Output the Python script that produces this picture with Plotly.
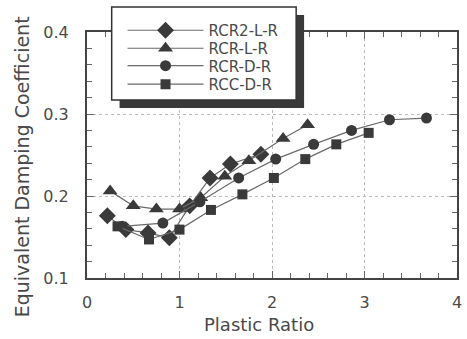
import plotly.graph_objects as go

# Data
rcr2_l_x = [0.22, 0.42, 0.66, 0.89, 1.11, 1.33, 1.55, 1.88]
rcr2_l_y = [0.176, 0.159, 0.155, 0.149, 0.188, 0.222, 0.239, 0.251]

rcr_l_x = [0.25, 0.50, 0.75, 1.00, 1.23, 1.49, 1.75, 2.12, 2.385]
rcr_l_y = [0.206, 0.188, 0.184, 0.184, 0.198, 0.224, 0.243, 0.270, 0.287]

rcr_d_x = [0.38, 0.82, 1.22, 1.64, 2.04, 2.45, 2.86, 3.27, 3.67]
rcr_d_y = [0.163, 0.167, 0.193, 0.222, 0.245, 0.263, 0.280, 0.293, 0.295]

rcc_d_x = [0.33, 0.67, 1.00, 1.34, 1.68, 2.02, 2.36, 2.695, 3.045]
rcc_d_y = [0.163, 0.147, 0.159, 0.183, 0.202, 0.222, 0.245, 0.263, 0.277]

names = ["RCR2-L-R", "RCR-L-R", "RCR-D-R", "RCC-D-R"]
symbols = ["diamond", "triangle-up", "circle", "square"]
sizes = [13, 13, 11, 10]
xs = [rcr2_l_x, rcr_l_x, rcr_d_x, rcc_d_x]
ys = [rcr2_l_y, rcr_l_y, rcr_d_y, rcc_d_y]

FONT = "DejaVu Sans"
mark_col = "#3a3a3a"
line_col = "#6a6a6a"
text_col = "#4a4a4a"

legend_ids = ["legend", "legend2", "legend3", "legend4"]
legend_y = [1.006, 0.933, 0.862, 0.787]

fig = go.Figure()
for n, s, sz, x, y, lid in zip(names, symbols, sizes, xs, ys, legend_ids):
    fig.add_trace(go.Scatter(
        x=x, y=y, name=n, mode="lines+markers", legend=lid,
        line=dict(color=line_col, width=1.2),
        marker=dict(symbol=s, size=sz, color=mark_col, line=dict(width=0)),
    ))

# legend frame with shadow
fig.add_shape(type="rect", xref="paper", yref="paper",
              x0=0.088, x1=0.5867, y0=0.691, y1=1.069,
              fillcolor="#3a3a3a", line=dict(width=0), layer="above")
fig.add_shape(type="rect", xref="paper", yref="paper",
              x0=0.0667, x1=0.5653, y0=0.7236, y1=1.1016,
              fillcolor="white", line=dict(width=1.5, color="#333"), layer="above")

axis_common = dict(
    showline=True, linecolor="#444", linewidth=2, mirror="ticks",
    ticks="inside", ticklen=7, tickcolor="#666", tickwidth=1,
    showgrid=True, gridcolor="#bbbbbb", griddash="dot", gridwidth=1,
    zeroline=False,
    tickfont=dict(family=FONT, size=16, color=text_col),
)

fig.update_xaxes(
    range=[0, 4], dtick=1, tick0=0, ticklabelstandoff=9,
    minor=dict(dtick=0.2, ticks="inside", ticklen=5, tickcolor="#666", showgrid=False),
    **axis_common,
)
fig.update_yaxes(
    range=[0.1, 0.4], dtick=0.1, tick0=0.1, tickformat=".1f", ticklabelstandoff=13,
    minor=dict(dtick=0.02, ticks="inside", ticklen=5, tickcolor="#666", showgrid=False),
    **axis_common,
)

fig.add_annotation(text="Plastic Ratio", xref="paper", yref="paper",
                   x=0.465, y=-0.191, xanchor="center", yanchor="middle",
                   showarrow=False, font=dict(family=FONT, size=18, color=text_col))
fig.add_annotation(text="Equivalent Damping Coefficient", xref="paper", yref="paper",
                   x=-0.175, y=0.451, xanchor="center", yanchor="middle", textangle=-90,
                   showarrow=False, font=dict(family=FONT, size=19, color=text_col))

legend_common = dict(
    x=0.096, xanchor="left", yanchor="middle",
    bgcolor="rgba(0,0,0,0)", borderwidth=0,
    font=dict(family=FONT, size=15, color=text_col),
    itemwidth=76,
)

layout_legends = {lid: dict(y=ly, **legend_common) for lid, ly in zip(legend_ids, legend_y)}

fig.update_layout(
    width=467, height=339,
    margin=dict(l=87, r=5, t=32, b=61),
    paper_bgcolor="white", plot_bgcolor="white",
    showlegend=True,
    **layout_legends,
)

fig.write_html("out.html")
